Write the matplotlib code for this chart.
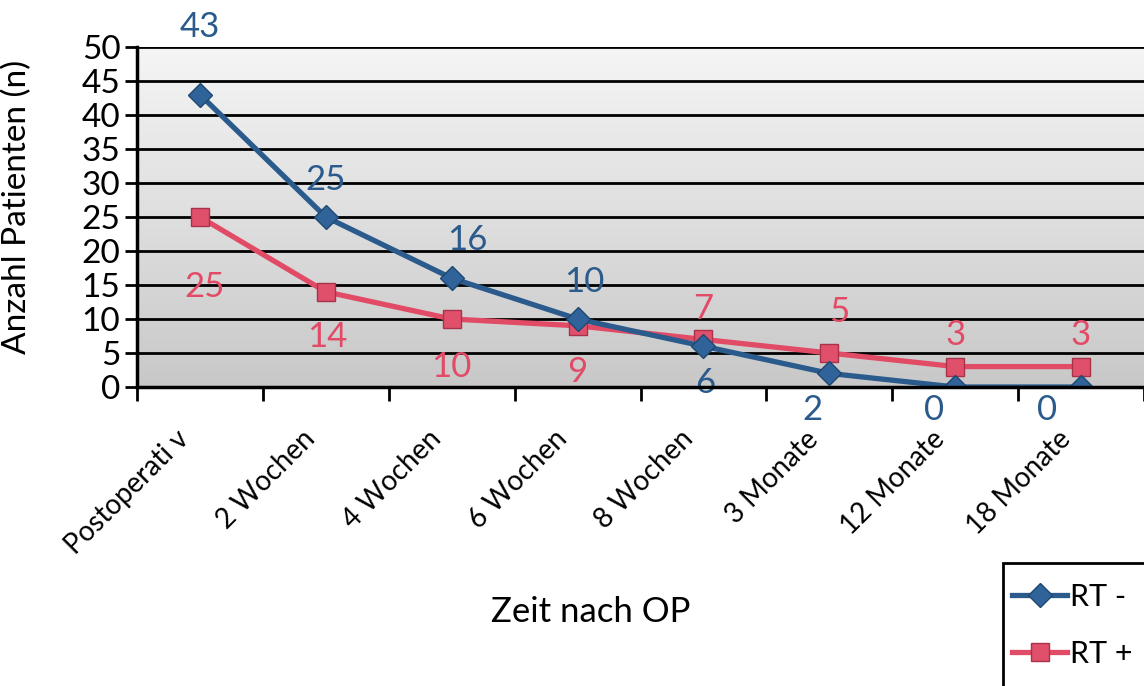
import matplotlib
import numpy as np

matplotlib.use("Agg")
import matplotlib.pyplot as plt
from matplotlib.colors import LinearSegmentedColormap
from matplotlib.patches import Rectangle
from matplotlib.transforms import ScaledTranslation

categories = ["Postoperati v", "2 Wochen", "4 Wochen", "6 Wochen", "8 Wochen",
              "3 Monate", "12 Monate", "18 Monate"]
rt_minus = [43, 25, 16, 10, 6, 2, 0, 0]
rt_plus = [25, 14, 10, 9, 7, 5, 3, 3]

# label offsets in pixels (dx, dy), placed by hand in the original
off_minus = [(0, 68), (0, 37), (16, 38), (7, 37), (2, -37), (-17, -37), (-21, -23), (-34, -23)]
off_plus = [(5, -70), (1, -45), (0, -48), (0, -46), (0, 30), (10, 41), (0, 32), (0, 32)]

BLUE = "#2b5b8c"
RED = "#e24b66"

plt.rcParams["font.family"] = ["Lato", "DejaVu Sans"]

fig = plt.figure(figsize=(11.44, 6.86), dpi=100)
ax = fig.add_axes([137 / 1144, 1 - 387 / 686, 1 - 137 / 1144, 340 / 686])

x = np.arange(len(categories))
ax.set_xlim(-0.5, len(categories) - 0.5)
ax.set_ylim(0, 50)

# gradient background
grad = np.linspace(0, 1, 256).reshape(-1, 1)
bg = LinearSegmentedColormap.from_list("bg", ["#c8c8c8", "#f5f5f5"])
ax.imshow(grad, cmap=bg, aspect="auto", origin="lower",
          extent=(-0.5, len(categories) - 0.5, 0, 50), zorder=0)

for yv in range(5, 51, 5):
    ax.axhline(yv, color="black", lw=2, zorder=1)

ax.plot(x, rt_minus, color=BLUE, lw=3.8, marker="D", ms=12,
        mfc="#2f6399", mec="#1f4870", mew=1, zorder=4, label="RT -")
ax.plot(x, rt_plus, color=RED, lw=3.8, marker="s", ms=13,
        mfc="#e0506b", mec="#a8324a", mew=1, zorder=3, label="RT +")

px = 0.72
for i, v in enumerate(rt_minus):
    dx, dy = off_minus[i]
    ax.annotate(str(v), (i, v), xytext=(dx * px, dy * px), textcoords="offset points",
                ha="center", va="center", color=BLUE, fontsize=25, zorder=5)
for i, v in enumerate(rt_plus):
    dx, dy = off_plus[i]
    ax.annotate(str(v), (i, v), xytext=(dx * px, dy * px), textcoords="offset points",
                ha="center", va="center", color=RED, fontsize=25, zorder=5)

for side in ("top", "right"):
    ax.spines[side].set_visible(False)
for side in ("left", "bottom"):
    ax.spines[side].set_linewidth(2.5)
    ax.spines[side].set_zorder(6)

ax.set_yticks(range(0, 51, 5))
ax.tick_params(axis="y", labelsize=24, length=9, width=2, pad=3)
ax.set_xticks(np.arange(-0.5, len(categories), 1))
ax.set_xticklabels([])
ax.tick_params(axis="x", length=10, width=2, direction="out")
ax.set_xticks(x, minor=True)
ax.set_xticklabels(categories, minor=True, rotation=45, ha="right",
                   rotation_mode="anchor", fontsize=20)
ax.tick_params(axis="x", which="minor", length=0, pad=28)
shift = ScaledTranslation(-24 / 100, 0, fig.dpi_scale_trans)
for lbl in ax.get_xticklabels(minor=True):
    lbl.set_transform(lbl.get_transform() + shift)

ax.set_ylabel("Anzahl Patienten (n)", fontsize=24)
ax.yaxis.set_label_coords(-(137 - 32) / 1007, 0.53)
fig.text(591 / 1144, 1 - 612 / 686, "Zeit nach OP", ha="center", va="center", fontsize=25)

# legend box runs off the bottom/right edge in the original
fig.patches.append(Rectangle((1003 / 1144, -0.05), 0.2, 0.05 + 1 - 563 / 686,
                             transform=fig.transFigure, fill=False,
                             edgecolor="black", lw=2))
fig.legend(loc="upper left", bbox_to_anchor=(1012 / 1144, 1 - 583 / 686),
           fontsize=22, frameon=False, handlelength=1.8, handletextpad=0.1,
           borderpad=0, labelspacing=0.95, borderaxespad=0)

fig.savefig("out.png", dpi=100)
